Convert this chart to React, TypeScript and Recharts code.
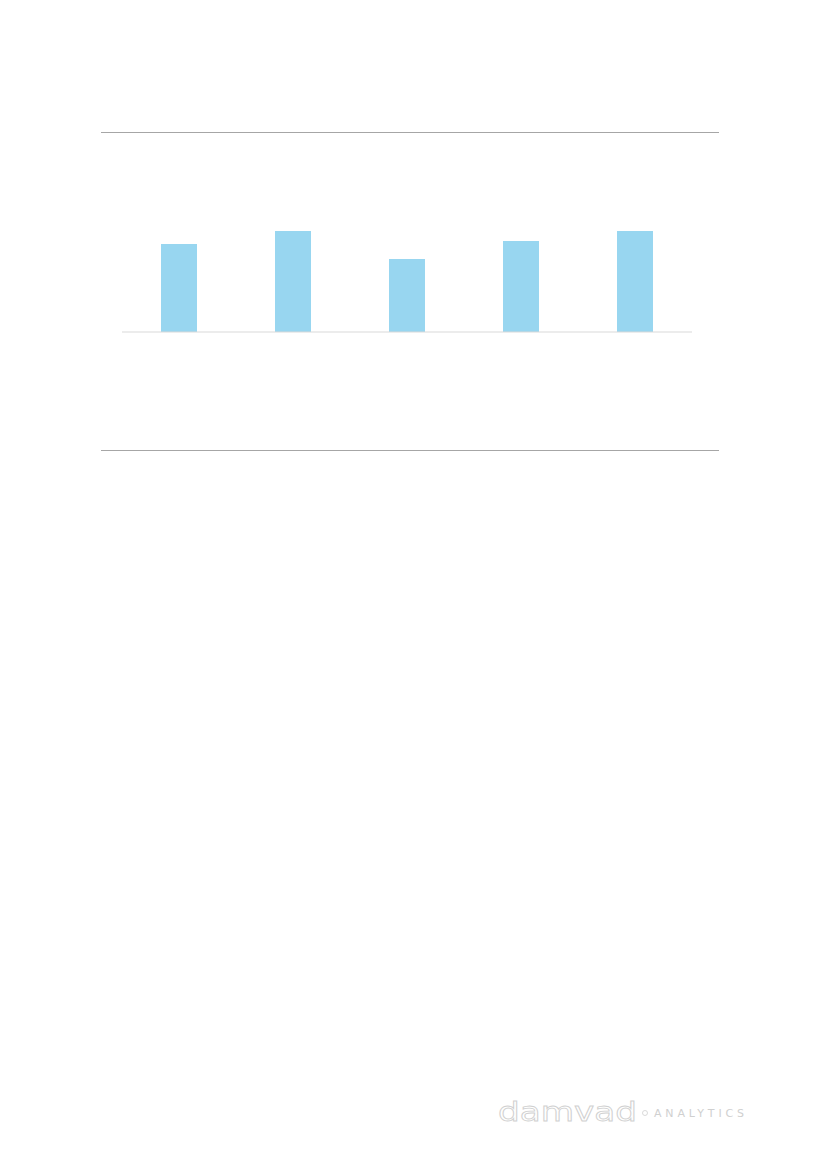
import { BarChart, Bar, XAxis, YAxis } from 'recharts';

const categories = ['A', 'B', 'C', 'D', 'E'];
const values = [88, 101, 73, 91, 101];

const data = categories.map((name, i) => ({ name, value: values[i] }));

export default function App() {
  return (
    <div style={{ position: 'absolute', left: 0, top: 0, width: 827, height: 1169, background: '#fff' }}>
      <div style={{ position: 'absolute', left: 101, top: 132, width: 618, height: 1, background: '#a6a6a6' }} />
      <div style={{ position: 'absolute', left: 101, top: 450, width: 618, height: 1, background: '#a6a6a6' }} />
      <div style={{ position: 'absolute', left: 122, top: 132 }}>
        <BarChart width={570} height={201} data={data} margin={{ top: 0, right: 0, left: 0, bottom: 0 }}>
          <XAxis
            dataKey="name"
            tick={false}
            tickLine={false}
            axisLine={{ stroke: '#d9d9d9', strokeWidth: 1 }}
            height={1}
          />
          <YAxis hide domain={[0, 200]} />
          <Bar dataKey="value" fill="#98d6f0" barSize={36} isAnimationActive={false} />
        </BarChart>
      </div>
      <svg style={{ position: 'absolute', left: 490, top: 1095 }} width={270} height={35}>
        <text
          x={8}
          y={26}
          fontFamily="DejaVu Sans"
          fontSize={26}
          fill="none"
          stroke="#d0d0d0"
          strokeWidth={0.8}
          textLength={139}
          lengthAdjust="spacingAndGlyphs"
        >
          damvad
        </text>
        <circle cx={155} cy={18} r={2.5} fill="none" stroke="#d0d0d0" strokeWidth={0.8} />
        <text x={164} y={22} fontFamily="DejaVu Sans" fontSize={11} fill="#d0d0d0" textLength={91} letterSpacing={1}>
          ANALYTICS
        </text>
      </svg>
    </div>
  );
}
